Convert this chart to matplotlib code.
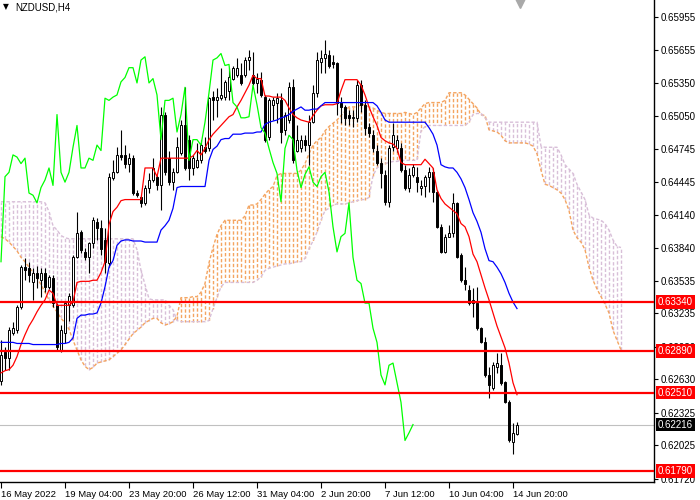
import numpy as np
import matplotlib
matplotlib.use('Agg')
import matplotlib.pyplot as plt
from matplotlib.collections import LineCollection
from matplotlib.transforms import blended_transform_factory

symbol = 'NZDUSD,H4'

open_ = [0.6262,0.6288,0.6283,0.6306,0.6308,0.6329,0.6366,0.6365,0.6352,0.6361,
0.6354,0.6361,0.6348,0.6356,0.6331,0.6290,0.6306,0.6331,0.6331,0.6375,
0.6398,0.6380,0.6375,0.6388,0.6407,0.6402,0.6391,0.6370,0.6448,0.6453,
0.6469,0.6469,0.6461,0.6466,0.6434,0.6430,0.6425,0.6439,0.6446,0.6449,
0.6441,0.6506,0.6466,0.6444,0.6453,0.6471,0.6496,0.6483,0.6457,0.6458,
0.6464,0.6476,0.6475,0.6522,0.6519,0.6521,0.6522,0.6528,0.6539,0.6542,
0.6542,0.6542,0.6556,0.6542,0.6535,0.6538,0.6522,0.6485,0.6515,0.6517,
0.6519,0.6492,0.6501,0.6531,0.6473,0.6475,0.6483,0.6478,0.6499,0.6526,
0.6554,0.6558,0.6561,0.6554,0.6553,0.6517,0.6513,0.6506,0.6503,0.6503,
0.6533,0.6515,0.6495,0.6487,0.6473,0.6462,0.6451,0.6426,0.6476,0.6475,
0.6475,0.6455,0.6439,0.6451,0.6449,0.6439,0.6440,0.6449,0.6453,0.6435,
0.6403,0.6380,0.6394,0.6397,0.6425,0.6377,0.6354,0.6345,0.6336,0.6333,
0.6310,0.6297,0.6267,0.6255,0.6274,0.6276,0.6261,0.6242,0.6206,0.6213]

high = [0.6299,0.6293,0.6311,0.6316,0.6331,0.6368,0.6374,0.6371,0.6365,0.6367,
0.6365,0.6365,0.6359,0.6359,0.6333,0.6313,0.6334,0.6342,0.6377,0.6417,
0.6400,0.6384,0.6389,0.6412,0.6411,0.6409,0.6402,0.6452,0.6464,0.6476,
0.6492,0.6478,0.6471,0.6469,0.6437,0.6432,0.6441,0.6452,0.6466,0.6451,
0.6513,0.6508,0.6473,0.6457,0.6485,0.6501,0.6531,0.6487,0.6469,0.6480,
0.6483,0.6485,0.6522,0.6528,0.6530,0.6549,0.6538,0.6549,0.6551,0.6558,
0.6553,0.6559,0.6565,0.6563,0.6544,0.6545,0.6524,0.6521,0.6522,0.6526,
0.6526,0.6508,0.6536,0.6539,0.6496,0.6487,0.6487,0.6506,0.6533,0.6563,
0.6565,0.6574,0.6565,0.6561,0.6554,0.6522,0.6515,0.6510,0.6510,0.6538,
0.6538,0.6519,0.6498,0.6492,0.6478,0.6466,0.6455,0.6478,0.6498,0.6487,
0.6480,0.6460,0.6457,0.6461,0.6458,0.6446,0.6451,0.6458,0.6457,0.6437,
0.6406,0.6396,0.6405,0.6434,0.6426,0.6379,0.6366,0.6350,0.6347,0.6348,
0.6311,0.6302,0.6274,0.6279,0.6287,0.6287,0.6262,0.6244,0.6223,0.6224]

low = [0.6258,0.6272,0.6272,0.6304,0.6306,0.6328,0.6354,0.6352,0.6336,0.6347,
0.6339,0.6343,0.6346,0.6329,0.6290,0.6288,0.6296,0.6317,0.6329,0.6374,
0.6379,0.6373,0.6361,0.6384,0.6391,0.6377,0.6361,0.6366,0.6446,0.6452,
0.6464,0.6457,0.6453,0.6432,0.6430,0.6421,0.6423,0.6434,0.6444,0.6437,
0.6418,0.6451,0.6441,0.6437,0.6452,0.6469,0.6455,0.6446,0.6451,0.6457,
0.6462,0.6471,0.6473,0.6501,0.6504,0.6519,0.6519,0.6519,0.6538,0.6540,
0.6533,0.6540,0.6547,0.6533,0.6526,0.6522,0.6481,0.6483,0.6501,0.6498,
0.6480,0.6487,0.6498,0.6462,0.6472,0.6472,0.6473,0.6460,0.6498,0.6522,
0.6544,0.6544,0.6549,0.6549,0.6506,0.6498,0.6496,0.6496,0.6495,0.6499,
0.6508,0.6487,0.6485,0.6472,0.6460,0.6439,0.6423,0.6421,0.6473,0.6472,
0.6453,0.6437,0.6435,0.6449,0.6435,0.6432,0.6430,0.6435,0.6426,0.6402,
0.6379,0.6379,0.6394,0.6394,0.6374,0.6352,0.6345,0.6331,0.6320,0.6308,
0.6296,0.6265,0.6246,0.6253,0.6269,0.6258,0.6241,0.6206,0.6195,0.6212]

close = [0.6285,0.6283,0.6308,0.6310,0.6329,0.6366,0.6363,0.6359,0.6361,0.6356,
0.6361,0.6348,0.6357,0.6333,0.6293,0.6308,0.6333,0.6340,0.6375,0.6397,
0.6382,0.6375,0.6388,0.6409,0.6402,0.6383,0.6371,0.6449,0.6453,0.6469,
0.6467,0.6461,0.6466,0.6434,0.6432,0.6425,0.6439,0.6446,0.6457,0.6441,
0.6506,0.6453,0.6444,0.6453,0.6476,0.6496,0.6457,0.6457,0.6466,0.6464,
0.6478,0.6473,0.6521,0.6519,0.6522,0.6524,0.6536,0.6540,0.6549,0.6549,
0.6535,0.6556,0.6559,0.6535,0.6539,0.6524,0.6483,0.6519,0.6519,0.6521,
0.6490,0.6506,0.6531,0.6464,0.6483,0.6483,0.6478,0.6499,0.6526,0.6556,
0.6558,0.6562,0.6551,0.6552,0.6517,0.6513,0.6503,0.6503,0.6504,0.6533,
0.6515,0.6494,0.6489,0.6475,0.6462,0.6452,0.6426,0.6475,0.6487,0.6483,
0.6455,0.6439,0.6451,0.6458,0.6444,0.6440,0.6449,0.6453,0.6435,0.6403,
0.6380,0.6394,0.6397,0.6425,0.6375,0.6354,0.6351,0.6333,0.6333,0.6310,
0.6297,0.6267,0.6258,0.6276,0.6278,0.6260,0.6242,0.6207,0.6214,0.62216]

tenkan = [0.6269,0.6271,0.6272,0.6276,0.6284,0.6295,0.6304,0.6312,0.6318,0.6325,
0.6331,0.6336,0.6345,0.6342,0.6331,0.6331,0.6331,0.6331,0.6334,0.6352,
0.6353,0.6353,0.6353,0.6354,0.6354,0.6361,0.6371,0.6405,0.6417,0.6421,
0.6427,0.6428,0.6428,0.6428,0.6428,0.6428,0.6457,0.6457,0.6457,0.6449,
0.6466,0.6466,0.6466,0.6466,0.6466,0.6466,0.6466,0.6466,0.6468,0.6473,
0.6469,0.6475,0.6483,0.6488,0.6492,0.6496,0.6500,0.6504,0.6506,0.6513,
0.6519,0.6526,0.6533,0.6542,0.6539,0.6539,0.6523,0.6523,0.6522,0.6522,
0.6522,0.6519,0.6512,0.6506,0.6503,0.6501,0.6500,0.6499,0.6505,0.6510,
0.6514,0.6515,0.6515,0.6515,0.6516,0.6528,0.6538,0.6538,0.6538,0.6538,
0.6533,0.6524,0.6513,0.6504,0.6496,0.6485,0.6482,0.6480,0.6479,0.6475,
0.6462,0.6460,0.6460,0.6460,0.6460,0.6460,0.6465,0.6461,0.6457,0.6437,
0.6429,0.6424,0.6421,0.6418,0.6415,0.6406,0.6403,0.6394,0.6378,0.6371,
0.6359,0.6347,0.6336,0.6324,0.6312,0.6302,0.6292,0.6278,0.6260,0.6249]

kijun = [0.6297,0.6297,0.6297,0.6297,0.6296,0.6296,0.6296,0.6296,0.6295,0.6295,
0.6295,0.6295,0.6295,0.6295,0.6295,0.6296,0.6296,0.6297,0.6301,0.6319,
0.6322,0.6322,0.6323,0.6323,0.6324,0.6333,0.6348,0.6366,0.6372,0.6386,
0.6390,0.6391,0.6391,0.6390,0.6390,0.6390,0.6389,0.6389,0.6389,0.6389,
0.6400,0.6404,0.6409,0.6420,0.6439,0.6440,0.6440,0.6440,0.6440,0.6440,
0.6440,0.6440,0.6464,0.6474,0.6477,0.6483,0.6484,0.6484,0.6488,0.6488,
0.6488,0.6489,0.6489,0.6489,0.6490,0.6490,0.6497,0.6499,0.6500,0.6501,
0.6503,0.6504,0.6506,0.6509,0.6511,0.6513,0.6510,0.6510,0.6511,0.6511,
0.6514,0.6517,0.6517,0.6517,0.6517,0.6517,0.6517,0.6517,0.6517,0.6517,
0.6517,0.6517,0.6517,0.6517,0.6514,0.6508,0.6501,0.6499,0.6499,0.6499,
0.6499,0.6499,0.6499,0.6499,0.6499,0.6499,0.6499,0.6494,0.6488,0.6478,
0.6460,0.6458,0.6457,0.6457,0.6453,0.6447,0.6439,0.6428,0.6416,0.6408,
0.6398,0.6383,0.6372,0.6371,0.6366,0.6360,0.6352,0.6342,0.6334,0.6328]

span_a = [0.6394,0.6392,0.6389,0.6385,0.6381,0.6375,0.6371,0.6366,0.6361,0.6356,
0.6350,0.6343,0.6336,0.6330,0.6325,0.6319,0.6315,0.6309,0.6299,0.6290,
0.6281,0.6275,0.6272,0.6274,0.6278,0.6279,0.6280,0.6281,0.6284,0.6287,
0.6290,0.6295,0.6300,0.6305,0.6308,0.6311,0.6315,0.6317,0.6319,0.6319,
0.6315,0.6313,0.6314,0.6316,0.6321,0.6338,0.6338,0.6338,0.6339,0.6339,
0.6343,0.6351,0.6370,0.6384,0.6396,0.6404,0.6409,0.6409,0.6409,0.6409,
0.6409,0.6413,0.6423,0.6423,0.6424,0.6428,0.6433,0.6437,0.6440,0.6450,
0.6452,0.6452,0.6452,0.6452,0.6452,0.6455,0.6461,0.6470,0.6478,0.6482,
0.6485,0.6491,0.6495,0.6498,0.6501,0.6505,0.6509,0.6513,0.6513,0.6513,
0.6515,0.6515,0.6513,0.6512,0.6510,0.6508,0.6507,0.6507,0.6507,0.6507,
0.6507,0.6508,0.6507,0.6506,0.6508,0.6512,0.6516,0.6517,0.6517,0.6517,
0.6517,0.6519,0.6526,0.6526,0.6526,0.6526,0.6524,0.6520,0.6516,0.6512,
0.6506,0.6505,0.6492,0.6491,0.6490,0.6487,0.6482,0.6480,0.6480,0.6480,
0.6480,0.6480,0.6479,0.6477,0.6470,0.6455,0.6442,0.6441,0.6439,0.6437,
0.6434,0.6428,0.6418,0.6400,0.6393,0.6389,0.6382,0.6366,0.6354,0.6346,
0.6339,0.6332,0.6324,0.6308,0.6299,0.6290]

span_b = [0.6426,0.6426,0.6426,0.6426,0.6426,0.6426,0.6426,0.6426,0.6426,0.6426,
0.6426,0.6425,0.6417,0.6404,0.6400,0.6395,0.6393,0.6392,0.6392,0.6392,
0.6392,0.6392,0.6392,0.6392,0.6392,0.6392,0.6392,0.6392,0.6392,0.6392,
0.6392,0.6392,0.6392,0.6392,0.6382,0.6363,0.6350,0.6337,0.6336,0.6336,
0.6336,0.6336,0.6331,0.6327,0.6317,0.6316,0.6316,0.6316,0.6316,0.6316,
0.6316,0.6316,0.6317,0.6328,0.6338,0.6348,0.6352,0.6352,0.6352,0.6352,
0.6352,0.6352,0.6352,0.6352,0.6354,0.6357,0.6363,0.6365,0.6366,0.6367,
0.6368,0.6369,0.6369,0.6370,0.6371,0.6371,0.6374,0.6383,0.6390,0.6398,
0.6409,0.6418,0.6420,0.6423,0.6424,0.6424,0.6424,0.6425,0.6426,0.6427,
0.6428,0.6428,0.6430,0.6450,0.6457,0.6460,0.6461,0.6462,0.6463,0.6463,
0.6464,0.6464,0.6464,0.6464,0.6464,0.6491,0.6495,0.6496,0.6496,0.6496,
0.6496,0.6496,0.6496,0.6496,0.6496,0.6496,0.6496,0.6499,0.6506,0.6507,
0.6507,0.6503,0.6499,0.6499,0.6499,0.6499,0.6499,0.6499,0.6499,0.6499,
0.6499,0.6499,0.6499,0.6499,0.6499,0.6477,0.6476,0.6476,0.6476,0.6476,
0.6469,0.6460,0.6456,0.6452,0.6442,0.6435,0.6428,0.6414,0.6411,0.6410,
0.6409,0.6406,0.6400,0.6391,0.6385,0.6384]

chikou_shift = 26
date_labels = ['16 May 2022', '19 May 04:00', '23 May 20:00', '26 May 12:00',
               '31 May 04:00', '2 Jun 20:00', '7 Jun 12:00', '10 Jun 04:00', '14 Jun 20:00']
date_label_bars = [0, 16, 32, 48, 64, 80, 96, 112, 128]
price_ticks = [0.65955, 0.65655, 0.65350, 0.65050, 0.64745, 0.64445, 0.64140, 0.63840,
               0.63535, 0.63235, 0.62930, 0.62630, 0.62325, 0.62025, 0.61720]
levels = [0.63340, 0.62890, 0.62510, 0.61790]
last_price = 0.62216

plt.rcParams['font.family'] = ['Liberation Sans', 'DejaVu Sans']

fig = plt.figure(figsize=(7, 5), dpi=100)
fig.patch.set_facecolor('white')
ax = fig.add_axes([0, 18 / 500, 654 / 700, 482 / 500])
ax.set_facecolor('white')

o = np.array(open_); h = np.array(high); l = np.array(low); c = np.array(close)
bars = np.arange(len(c))

# Ichimoku cloud: vertical dotted hatching between the two spans
a = np.array(span_a); b = np.array(span_b)
cb = np.arange(len(a))
ORANGE = '#F4A460'
THISTLE = '#D8BFD8'
segs = [[(x, ya), (x, yb)] for x, ya, yb in zip(cb, a, b)]
seg_colors = [ORANGE if ya >= yb else THISTLE for ya, yb in zip(a, b)]
cloud = LineCollection(segs, colors=seg_colors, linewidths=1.0,
                       linestyles=(0, (2.4, 1.5)), zorder=1)
ax.add_collection(cloud)
ax.plot(cb, a, color=ORANGE, ls=(0, (2.4, 1.5)), lw=1.0, zorder=1.5)
ax.plot(cb, b, color=THISTLE, ls=(0, (2.4, 1.5)), lw=1.0, zorder=1.5)

# last price line
ax.axhline(last_price, color='#C0C0C0', lw=0.8, zorder=2)

# candles
ax.vlines(bars, l, h, colors='black', lw=0.8, zorder=3)
bull = c >= o
body_h = np.maximum(np.abs(c - o), 0.00004)
body_b = np.minimum(o, c)
ax.bar(bars[bull], body_h[bull], bottom=body_b[bull], width=0.62, color='white',
       edgecolor='black', linewidth=0.7, zorder=4)
ax.bar(bars[~bull], body_h[~bull], bottom=body_b[~bull], width=0.62, color='black',
       edgecolor='black', linewidth=0.7, zorder=4)

# Ichimoku lines
ax.plot(bars, tenkan, color='#FF0000', lw=0.9, zorder=5)
ax.plot(bars, kijun, color='#0000FF', lw=0.9, zorder=5)
ax.plot(bars[:len(c) - chikou_shift], c[chikou_shift:], color='#00FF00', lw=0.9, zorder=5)

# horizontal levels
for lv in levels:
    ax.axhline(lv, color='#FF0000', lw=1.6, zorder=6)

ax.set_xlim(-0.25, 163.25)
ax.set_ylim(0.61689, 0.66111)

for s in ['top', 'left']:
    ax.spines[s].set_visible(False)
for s in ['right', 'bottom']:
    ax.spines[s].set_color('black')
    ax.spines[s].set_linewidth(1.0)

ax.yaxis.tick_right()
ax.set_yticks(price_ticks)
ax.set_yticklabels([f'{v:.5f}' for v in price_ticks])
ax.tick_params(axis='y', direction='out', length=3, width=0.8, pad=2, labelsize=7, colors='black')
ax.set_xticks(date_label_bars)
ax.set_xticklabels(date_labels)
ax.tick_params(axis='x', direction='out', length=4, width=0.8, pad=1.5, labelsize=6.8, colors='black')
for t in ax.get_xticklabels():
    t.set_horizontalalignment('left')

tr = blended_transform_factory(ax.transAxes, ax.transData)
for lv in levels:
    ax.text(1.0 + 4 / 654, lv, f'{lv:.5f}', transform=tr, color='white', fontsize=7,
            va='center', ha='left', zorder=10, clip_on=False,
            bbox=dict(boxstyle='square,pad=0.18', fc='#FF0000', ec='none'))
ax.text(1.0 + 4 / 654, last_price, f'{last_price:.5f}', transform=tr, color='white', fontsize=7,
        va='center', ha='left', zorder=10, clip_on=False,
        bbox=dict(boxstyle='square,pad=0.18', fc='black', ec='none'))

fig.text(3 / 700, 1 - 7 / 500, '\u25bc', fontsize=5.5, va='center', ha='left', color='black',
         family=['DejaVu Sans'])
fig.text(15 / 700, 1 - 7 / 500, symbol, fontsize=7, va='center', ha='left', color='black')
ax.plot([520 / 654], [1 - 3 / 482], marker='v', ms=7, color='#A9A9A9', transform=ax.transAxes,
        clip_on=False, zorder=10)

fig.savefig('out.png', dpi=100)
